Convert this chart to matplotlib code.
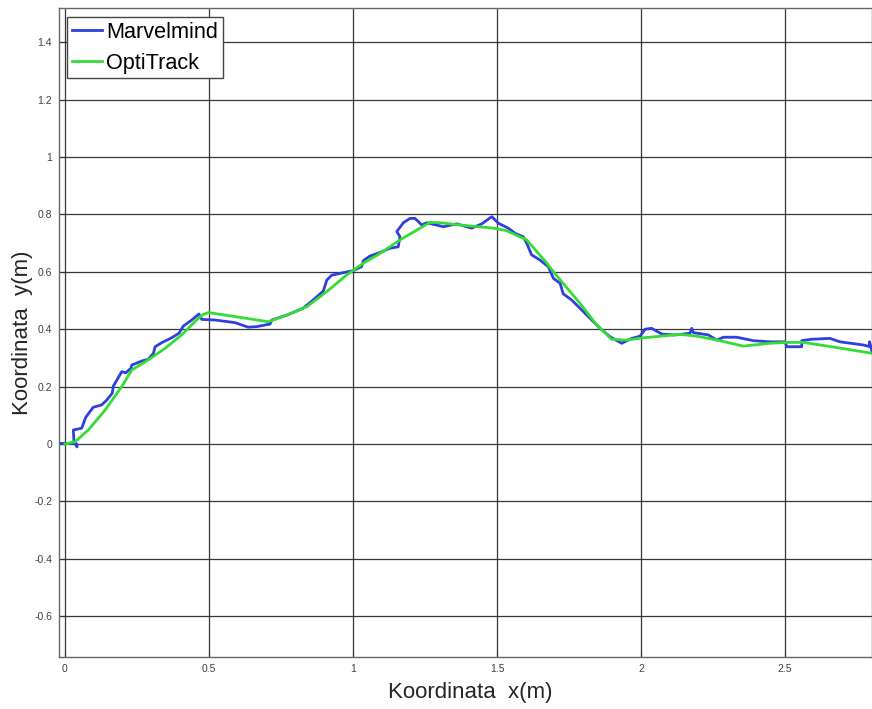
import numpy as np
import matplotlib.pyplot as plt

plt.rcParams['font.family'] = ['Liberation Sans', 'DejaVu Sans']

# Marvelmind beacon track (m)
marvel_x = [-0.023, 0.017, 0.041, 0.042, 0.031, 0.029, 0.058, 0.072, 0.098, 0.127,
            0.145, 0.164, 0.168, 0.197, 0.211, 0.229, 0.232, 0.266, 0.289, 0.307,
            0.313, 0.336, 0.370, 0.396, 0.411, 0.440, 0.465, 0.475, 0.521, 0.590,
            0.636, 0.666, 0.712, 0.718, 0.770, 0.827, 0.862, 0.897, 0.909, 0.926,
            0.966, 1.001, 1.030, 1.036, 1.059, 1.094, 1.128, 1.157, 1.163, 1.152,
            1.175, 1.198, 1.215, 1.239, 1.256, 1.314, 1.360, 1.412, 1.447, 1.482,
            1.505, 1.539, 1.563, 1.591, 1.603, 1.620, 1.649, 1.678, 1.696, 1.719,
            1.730, 1.759, 1.788, 1.823, 1.858, 1.892, 1.933, 1.968, 1.997, 2.014,
            2.037, 2.072, 2.118, 2.170, 2.176, 2.182, 2.234, 2.263, 2.286, 2.332,
            2.390, 2.448, 2.500, 2.506, 2.558, 2.558, 2.593, 2.656, 2.691, 2.772,
            2.795, 2.793, 2.802]
marvel_y = [0.002, 0.002, 0.000, -0.010, 0.010, 0.049, 0.055, 0.093, 0.128, 0.136,
            0.153, 0.177, 0.202, 0.252, 0.248, 0.264, 0.275, 0.289, 0.295, 0.316,
            0.339, 0.353, 0.370, 0.386, 0.411, 0.432, 0.453, 0.434, 0.432, 0.423,
            0.407, 0.409, 0.418, 0.432, 0.449, 0.473, 0.502, 0.533, 0.571, 0.588,
            0.597, 0.604, 0.618, 0.639, 0.655, 0.667, 0.682, 0.687, 0.722, 0.740,
            0.771, 0.786, 0.786, 0.763, 0.771, 0.757, 0.767, 0.752, 0.767, 0.792,
            0.769, 0.752, 0.734, 0.722, 0.700, 0.659, 0.641, 0.618, 0.577, 0.560,
            0.523, 0.502, 0.473, 0.438, 0.403, 0.374, 0.351, 0.368, 0.376, 0.400,
            0.403, 0.383, 0.380, 0.386, 0.403, 0.388, 0.380, 0.362, 0.372, 0.372,
            0.360, 0.356, 0.356, 0.339, 0.339, 0.360, 0.365, 0.368, 0.356, 0.345,
            0.339, 0.356, 0.322]

# OptiTrack reference track (m)
opti_x = [0.000, 0.035, 0.081, 0.139, 0.197, 0.232, 0.289, 0.347, 0.405, 0.451,
          0.475, 0.498, 0.590, 0.706, 0.770, 0.839, 0.909, 0.978, 1.036, 1.094,
          1.163, 1.267, 1.302, 1.372, 1.487, 1.534, 1.603, 1.673, 1.696, 1.788,
          1.846, 1.898, 1.950, 2.008, 2.135, 2.193, 2.274, 2.355, 2.448, 2.506,
          2.564, 2.680, 2.802]
opti_y = [0.000, 0.008, 0.049, 0.118, 0.200, 0.258, 0.293, 0.333, 0.380, 0.426,
          0.449, 0.458, 0.444, 0.426, 0.449, 0.478, 0.531, 0.589, 0.630, 0.664,
          0.711, 0.772, 0.771, 0.763, 0.752, 0.743, 0.711, 0.630, 0.600, 0.490,
          0.415, 0.365, 0.362, 0.370, 0.382, 0.376, 0.360, 0.341, 0.351, 0.354,
          0.354, 0.336, 0.316]

fig = plt.figure(figsize=(8.72, 7.09), dpi=100)
ax = fig.add_axes([59 / 872, 52 / 709, 1 - 59 / 872, 649 / 709])

ax.plot(marvel_x, marvel_y, color='#2f3fe0', lw=2.0, label='Marvelmind')
ax.plot(opti_x, opti_y, color='#33dd33', lw=2.0, label='OptiTrack')

ax.set_xlim(-0.0208, 2.802)
ax.set_ylim(-0.742, 1.519)
ax.set_xticks(np.arange(0, 2.51, 0.5))
ax.set_xticklabels(['0', '0.5', '1', '1.5', '2', '2.5'])
yt = np.round(np.arange(-0.6, 1.41, 0.2), 1)
ax.set_yticks(yt)
ax.set_yticklabels(['0' if abs(v) < 1e-9 else f'{v:g}' for v in yt])

ax.grid(True, color='#222222', lw=0.9, alpha=0.9)
ax.tick_params(direction='in', length=4, width=0.8, colors='#333333',
               labelsize=7.5, labelcolor='#404040', pad=5)
for s in ax.spines.values():
    s.set_color('#666666')
    s.set_linewidth(1.0)

ax.set_xlabel('Koordinata  x(m)', fontsize=16, color='#262626')
ax.set_ylabel('Koordinata  y(m)', fontsize=16, color='#262626')
ax.xaxis.set_label_coords(0.506, -0.038)
ax.yaxis.set_label_coords(-0.032, 0.5)

leg = ax.legend(loc='upper left', bbox_to_anchor=(8 / 813, 1 - 9 / 649),
                borderaxespad=0, fontsize=15.6, fancybox=False, framealpha=1,
                edgecolor='#444444', handlelength=1.4, handletextpad=0.2,
                labelspacing=0.45, borderpad=0.22)
leg.get_frame().set_linewidth(1.0)

fig.savefig('out.png', dpi=100)
